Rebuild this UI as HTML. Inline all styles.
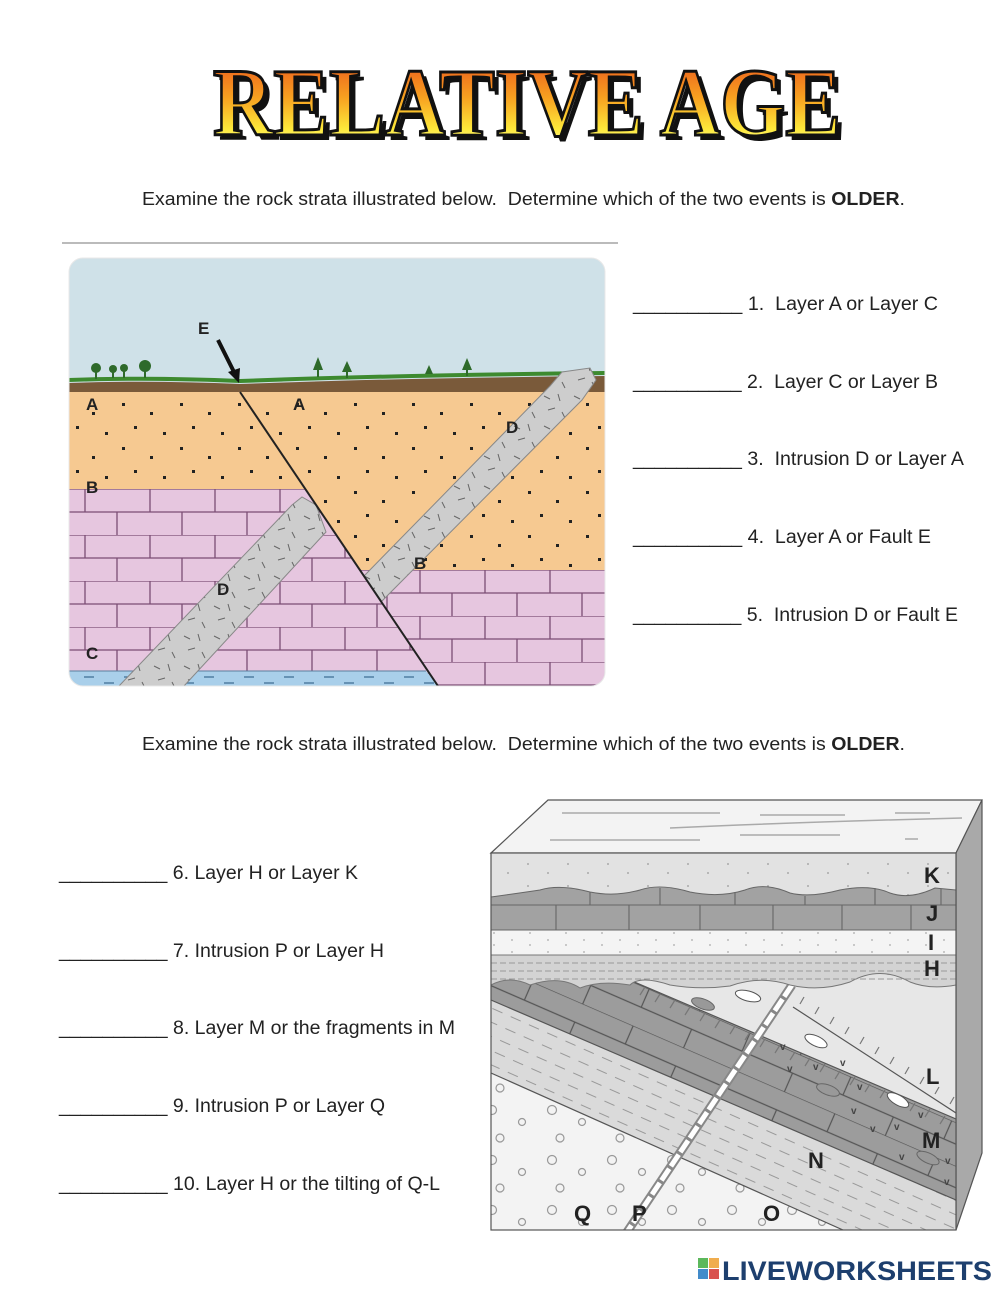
<!DOCTYPE html>
<html><head><meta charset="utf-8">
<style>
html,body{margin:0;padding:0;background:#fff;}
svg{display:block;}
text{font-family:"Liberation Sans",sans-serif;white-space:pre;}
</style></head>
<body>
<svg width="1000" height="1291" viewBox="0 0 1000 1291" xmlns="http://www.w3.org/2000/svg" xml:space="preserve">
<defs>
  <linearGradient id="tg" x1="0" y1="0" x2="0" y2="1">
    <stop offset="0" stop-color="#e8481c"/>
    <stop offset="0.45" stop-color="#f7a020"/>
    <stop offset="0.75" stop-color="#fde93a"/>
    <stop offset="1" stop-color="#ffffe0"/>
  </linearGradient>
  <pattern id="brickL" patternUnits="userSpaceOnUse" x="0" y="489" width="130" height="46">
    <rect width="130" height="46" fill="#e6c6df"/>
    <path d="M0 0H130M0 23H130M20 0V23M85 0V23M52 23V46M117 23V46" stroke="#7b4d74" stroke-width="1.3" fill="none"/>
  </pattern>
  <pattern id="brickR" patternUnits="userSpaceOnUse" x="10" y="570" width="130" height="46">
    <rect width="130" height="46" fill="#e6c6df"/>
    <path d="M0 0H130M0 23H130M20 0V23M85 0V23M52 23V46M117 23V46" stroke="#7b4d74" stroke-width="1.3" fill="none"/>
  </pattern>
  <pattern id="sand" patternUnits="userSpaceOnUse" width="58" height="44">
    <rect width="58" height="44" fill="#f6c991"/>
    <rect x="6" y="7" width="3" height="3" fill="#222"/>
    <rect x="34" y="16" width="3" height="3" fill="#222"/>
    <rect x="18" y="30" width="3" height="3" fill="#222"/>
    <rect x="47" y="36" width="3" height="3" fill="#222"/>
  </pattern>
  <pattern id="water" patternUnits="userSpaceOnUse" width="40" height="14">
    <rect width="40" height="14" fill="#a9cfea"/>
    <path d="M4 5H14M24 11H34" stroke="#3f6e95" stroke-width="1.2"/>
  </pattern>
  <pattern id="dike" patternUnits="userSpaceOnUse" width="30" height="30">
    <rect width="30" height="30" fill="#cdcdcd"/>
    <path d="M4 6l6 3M18 4l2 7M8 20l7-2M22 22l3 6" stroke="#666" stroke-width="1"/>
  </pattern>
  <pattern id="dots" patternUnits="userSpaceOnUse" width="40" height="22">
    <rect width="40" height="22" fill="#e2e2e2"/>
    <circle cx="8" cy="6" r="0.9" fill="#999"/><circle cx="28" cy="15" r="0.9" fill="#999"/>
  </pattern>
  <pattern id="dotsI" patternUnits="userSpaceOnUse" width="36" height="12">
    <rect width="36" height="12" fill="#f4f4f4"/>
    <circle cx="8" cy="4" r="0.9" fill="#aaa"/><circle cx="26" cy="9" r="0.9" fill="#aaa"/>
  </pattern>
  <pattern id="circ" patternUnits="userSpaceOnUse" width="60" height="50">
    <rect width="60" height="50" fill="#f3f3f3"/>
    <circle cx="12" cy="10" r="4.5" fill="none" stroke="#999" stroke-width="1.2"/>
    <circle cx="42" cy="22" r="3.5" fill="none" stroke="#999" stroke-width="1.2"/>
    <circle cx="20" cy="38" r="4" fill="none" stroke="#999" stroke-width="1.2"/>
  </pattern>
  <pattern id="odash" patternUnits="userSpaceOnUse" width="20" height="13" patternTransform="rotate(24)">
    <rect width="20" height="13" fill="#dadada"/>
    <path d="M0 6H11" stroke="#999" stroke-width="1"/>
  </pattern>
  <pattern id="nbrick" patternUnits="userSpaceOnUse" width="110" height="40" patternTransform="translate(640,985) rotate(23.5)">
    <rect width="110" height="40" fill="#9c9c9c"/>
    <path d="M0 0H110M0 20H110M10 0V20M65 20V40" stroke="#555" stroke-width="1.2"/>
  </pattern>
  <clipPath id="c1"><rect x="69" y="258" width="536" height="428" rx="14"/></clipPath>
  <clipPath id="c2"><rect x="491" y="853" width="465" height="377"/></clipPath>
</defs>

<!-- Title -->
<text x="532" y="140" text-anchor="middle" font-weight="bold" font-size="96" textLength="628" lengthAdjust="spacingAndGlyphs" fill="#111" style="font-family:'Liberation Serif',serif">RELATIVE AGE</text>
<text x="527" y="135" text-anchor="middle" font-weight="bold" font-size="96" textLength="628" lengthAdjust="spacingAndGlyphs" fill="url(#tg)" stroke="#111" stroke-width="3" style="font-family:'Liberation Serif',serif">RELATIVE AGE</text>

<text x="142" y="205" font-size="18" fill="#222" textLength="763" lengthAdjust="spacingAndGlyphs">Examine the rock strata illustrated below.  Determine which of the two events is <tspan font-weight="bold">OLDER</tspan>.</text>
<line x1="62" y1="243" x2="618" y2="243" stroke="#bbb" stroke-width="2"/>

<!-- Diagram 1 -->
<g clip-path="url(#c1)">
  <rect x="69" y="258" width="536" height="428" fill="#cfe1e8"/>
  <rect x="69" y="385" width="536" height="301" fill="url(#sand)"/>
  <path d="M69 383 Q150 380 240 384 Q400 378 605 376 L605 392 L69 392Z" fill="#7a5a3a"/>
  <path d="M69 380 Q150 377 240 381 Q400 375 605 373" stroke="#3d8a2f" stroke-width="4" fill="none"/>
  <polygon points="69,489 305,489 438,686 69,686" fill="url(#brickL)"/>
  <polygon points="69,671 426,671 438,686 69,686" fill="url(#water)"/>
  <line x1="69" y1="671" x2="426" y2="671" stroke="#5a7f9e" stroke-width="1"/>
  <polygon points="360,570 605,570 605,686 438,686" fill="url(#brickR)"/>
  <polygon points="119,686 292,505 302,497 316,505 326,532 184,686" fill="url(#dike)" stroke="#888" stroke-width="1"/>
  <polygon points="364,576 550,386 562,372 590,368 596,380 582,400 381,602" fill="url(#dike)" stroke="#888" stroke-width="1"/>
  <line x1="240" y1="392" x2="438" y2="686" stroke="#222" stroke-width="2"/>
  <line x1="218" y1="340" x2="234" y2="372" stroke="#111" stroke-width="4"/>
  <polygon points="228,372 240,368 239,383" fill="#111"/>
  <g fill="#2e6a2a">
    <circle cx="96" cy="368" r="5"/><rect x="95" y="370" width="2" height="9"/>
    <circle cx="113" cy="369" r="4"/><rect x="112" y="370" width="2" height="8"/>
    <circle cx="124" cy="368" r="4"/><rect x="123" y="370" width="2" height="8"/>
    <circle cx="145" cy="366" r="6"/><rect x="144" y="370" width="2" height="8"/>
    <polygon points="313,370 318,357 323,370"/><rect x="317" y="368" width="2" height="9"/>
    <polygon points="342,372 347,361 352,372"/><rect x="346" y="370" width="2" height="8"/>
    <polygon points="425,374 429,365 433,374"/>
    <polygon points="462,370 467,358 472,370"/><rect x="466" y="368" width="2" height="8"/>
  </g>
</g>
<rect x="69" y="258" width="536" height="428" rx="14" fill="none" stroke="#e8e8e8" stroke-width="1"/>
<g font-weight="bold" font-size="17" fill="#222">
  <text x="198" y="334">E</text>
  <text x="86" y="410">A</text>
  <text x="293" y="410">A</text>
  <text x="506" y="433">D</text>
  <text x="86" y="493">B</text>
  <text x="217" y="595">D</text>
  <text x="414" y="569">B</text>
  <text x="86" y="659">C</text>
</g>

<!-- Questions 1-5 -->
<g font-size="19" fill="#222">
  <text x="633" y="310" textLength="305" lengthAdjust="spacingAndGlyphs">__________ 1.  Layer A or Layer C</text>
  <text x="633" y="388" textLength="305" lengthAdjust="spacingAndGlyphs">__________ 2.  Layer C or Layer B</text>
  <text x="633" y="465" textLength="331" lengthAdjust="spacingAndGlyphs">__________ 3.  Intrusion D or Layer A</text>
  <text x="633" y="543" textLength="298" lengthAdjust="spacingAndGlyphs">__________ 4.  Layer A or Fault E</text>
  <text x="633" y="621" textLength="325" lengthAdjust="spacingAndGlyphs">__________ 5.  Intrusion D or Fault E</text>
</g>

<text x="142" y="750" font-size="18" fill="#222" textLength="763" lengthAdjust="spacingAndGlyphs">Examine the rock strata illustrated below.  Determine which of the two events is <tspan font-weight="bold">OLDER</tspan>.</text>

<g font-size="19" fill="#222">
  <text x="59" y="879" textLength="299" lengthAdjust="spacingAndGlyphs">__________ 6. Layer H or Layer K</text>
  <text x="59" y="957" textLength="325" lengthAdjust="spacingAndGlyphs">__________ 7. Intrusion P or Layer H</text>
  <text x="59" y="1034" textLength="396" lengthAdjust="spacingAndGlyphs">__________ 8. Layer M or the fragments in M</text>
  <text x="59" y="1112" textLength="326" lengthAdjust="spacingAndGlyphs">__________ 9. Intrusion P or Layer Q</text>
  <text x="59" y="1190" textLength="381" lengthAdjust="spacingAndGlyphs">__________ 10. Layer H or the tilting of Q-L</text>
</g>

<!-- Diagram 2 -->
<polygon points="491,853 548,800 982,800 956,853" fill="#f3f3f3" stroke="#555" stroke-width="1.2"/>
<g stroke="#aaa" stroke-width="1.5" fill="none">
  <path d="M562 813H720M760 815H845M895 813H930M670 828Q800 822 962 818M550 840H700M740 835H840M905 839H918"/>
</g>
<polygon points="956,853 982,800 982,1153 956,1230" fill="#a9a9a9" stroke="#555" stroke-width="1.2"/>
<g clip-path="url(#c2)">
  <rect x="491" y="853" width="465" height="377" fill="url(#dots)"/>
  <rect x="491" y="980" width="465" height="250" fill="#e7e7e7"/>
  <polygon points="491,921 956,1119 956,1200 491,1000" fill="url(#nbrick)"/>
  <polygon points="491,1000 956,1200 956,1230 843,1230 491,1073" fill="url(#odash)"/>
  <polygon points="491,1073 843,1230 491,1230" fill="url(#circ)"/>
  <g stroke="#555" stroke-width="1.2" fill="none">
    <line x1="491" y1="921" x2="956" y2="1119"/>
    <line x1="491" y1="1000" x2="956" y2="1200"/>
    <line x1="491" y1="1073" x2="843" y2="1230"/>
    <line x1="793" y1="1007" x2="956" y2="1113"/>
  </g>
  <path d="M645 987l-5 8M660 994l-5 8M675 1000l-5 8M690 1007l-5 8M705 1013l-5 8M720 1020l-5 8M735 1026l-5 8M750 1032l-5 8M765 1039l-5 8M780 1045l-5 8M795 1052l-5 8M810 1058l-5 8M825 1064l-5 8M840 1071l-5 8M855 1077l-5 8M870 1084l-5 8M885 1090l-5 8M900 1096l-5 8M915 1103l-5 8M930 1109l-5 8M945 1116l-5 8" stroke="#777" stroke-width="1.2"/>
  <path d="M800 1004l4 -7M815 1014l4 -7M830 1024l4 -7M845 1034l4 -7M860 1044l4 -7M875 1054l4 -7M890 1064l4 -7M905 1074l4 -7M920 1084l4 -7M935 1094l4 -7M950 1104l4 -7" stroke="#777" stroke-width="1.2"/>
  <g fill="#999" stroke="#666">
    <ellipse cx="703" cy="1004" rx="12" ry="5" transform="rotate(20 703 1004)"/>
    <ellipse cx="828" cy="1090" rx="12" ry="5" transform="rotate(20 828 1090)"/>
    <ellipse cx="928" cy="1158" rx="12" ry="5" transform="rotate(25 928 1158)"/>
  </g>
  <g fill="#fff" stroke="#555">
    <ellipse cx="748" cy="996" rx="13" ry="5" transform="rotate(15 748 996)"/>
    <ellipse cx="816" cy="1041" rx="12" ry="5" transform="rotate(25 816 1041)"/>
    <ellipse cx="898" cy="1100" rx="12" ry="5" transform="rotate(30 898 1100)"/>
  </g>
  <g font-size="10" font-weight="bold" fill="#444">
    <text x="780" y="1050">v</text><text x="787" y="1072">v</text><text x="813" y="1070">v</text>
    <text x="840" y="1066">v</text><text x="857" y="1090">v</text><text x="851" y="1114">v</text>
    <text x="870" y="1132">v</text><text x="894" y="1130">v</text><text x="918" y="1118">v</text>
    <text x="899" y="1160">v</text><text x="945" y="1164">v</text><text x="944" y="1185">v</text>
  </g>
  <line x1="792" y1="985" x2="627" y2="1232" stroke="#888" stroke-width="9"/>
  <line x1="792" y1="985" x2="627" y2="1232" stroke="#fff" stroke-width="5" stroke-dasharray="14 3"/>
  <path d="M491 955H956V985 Q930 990 910 982 Q880 965 850 982 Q820 992 790 985 Q760 975 730 986 Q700 990 670 985 Q640 975 630 985 Q600 980 580 988 Q560 975 530 985 Q510 975 491 985Z" fill="#d3d3d3" stroke="#777" stroke-width="1"/>
  <g stroke="#999" stroke-width="1" stroke-dasharray="6 3">
    <line x1="491" y1="963" x2="956" y2="963"/><line x1="491" y1="971" x2="956" y2="971"/><line x1="491" y1="979" x2="956" y2="979"/>
  </g>
  <rect x="491" y="930" width="465" height="25" fill="url(#dotsI)" stroke="#777" stroke-width="1"/>
  <path d="M491 897 Q520 893 540 890 Q560 884 590 892 Q615 897 640 890 Q660 883 690 892 Q720 898 745 890 Q765 882 790 893 Q810 898 840 890 Q870 884 890 893 Q910 900 935 888 L956 890 V930 H491Z" fill="#a2a2a2" stroke="#666" stroke-width="1"/>
  <path d="M491 905H956M556 905V930M629 905V930M700 905V930M773 905V930M842 905V930M911 905V930M590 892V905M660 888V905M735 892V905M805 896V905M875 888V905M941 889V905" stroke="#666" stroke-width="1.1" fill="none"/>
</g>
<rect x="491" y="853" width="465" height="377" fill="none" stroke="#555" stroke-width="1.2"/>
<g font-weight="bold" font-size="22" fill="#222">
  <text x="924" y="883">K</text>
  <text x="926" y="921">J</text>
  <text x="928" y="950">I</text>
  <text x="924" y="976">H</text>
  <text x="926" y="1084">L</text>
  <text x="922" y="1148">M</text>
  <text x="808" y="1168">N</text>
  <text x="763" y="1221">O</text>
  <text x="632" y="1221">P</text>
  <text x="574" y="1221">Q</text>
</g>

<rect x="698" y="1258" width="10" height="10" fill="#5cb85c"/>
<rect x="709" y="1258" width="10" height="10" fill="#f0ad4e"/>
<rect x="698" y="1269" width="10" height="10" fill="#428bca"/>
<rect x="709" y="1269" width="10" height="10" fill="#d9534f"/>
<text x="722" y="1280" font-weight="bold" font-size="27" fill="#1d3f6e" textLength="270" lengthAdjust="spacingAndGlyphs">LIVEWORKSHEETS</text>
</svg>
</body></html>
